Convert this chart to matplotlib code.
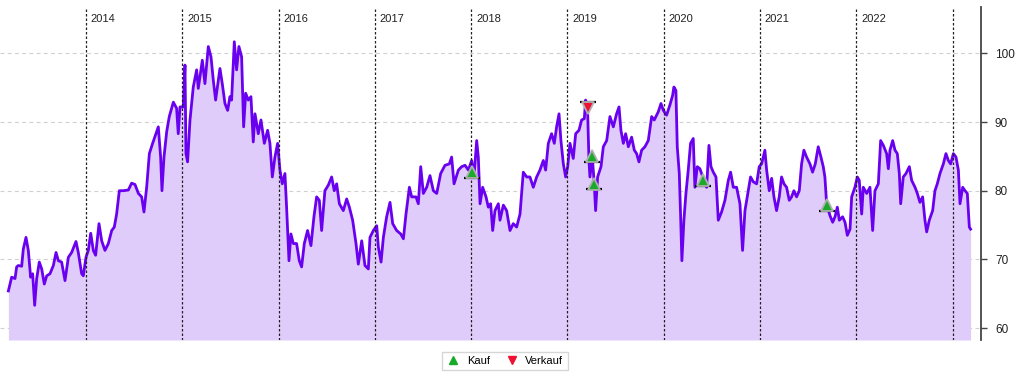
import numpy as np
import matplotlib
matplotlib.use("Agg")
import matplotlib.pyplot as plt
import matplotlib.transforms as mtransforms

plt.rcParams['font.family'] = ['Liberation Sans', 'DejaVu Sans']

# Kursverlauf (Zeit als Dezimaljahr)
jahr = [2013.194, 2013.211, 2013.228, 2013.263, 2013.280, 2013.297, 2013.332, 2013.349, 2013.377, 2013.401,
        2013.425, 2013.446, 2013.467, 2013.488, 2013.515, 2013.540, 2013.567, 2013.592, 2013.626, 2013.661,
        2013.689, 2013.713, 2013.747, 2013.782, 2013.817, 2013.851, 2013.896, 2013.920, 2013.955, 2013.972,
        2014.000, 2014.024, 2014.049, 2014.076, 2014.100, 2014.135, 2014.163, 2014.197, 2014.232, 2014.267,
        2014.294, 2014.318, 2014.346, 2014.388, 2014.440, 2014.474, 2014.509, 2014.544, 2014.578, 2014.602,
        2014.630, 2014.658, 2014.692, 2014.727, 2014.751, 2014.775, 2014.789, 2014.810, 2014.838, 2014.865,
        2014.907, 2014.941, 2014.958, 2014.976, 2015.010, 2015.028, 2015.038, 2015.055, 2015.080, 2015.114,
        2015.149, 2015.166, 2015.208, 2015.235, 2015.270, 2015.298, 2015.322, 2015.346, 2015.374, 2015.391,
        2015.415, 2015.443, 2015.471, 2015.495, 2015.512, 2015.540, 2015.564, 2015.588, 2015.616, 2015.637,
        2015.658, 2015.685, 2015.713, 2015.737, 2015.755, 2015.789, 2015.817, 2015.852, 2015.886, 2015.910,
        2015.935, 2015.962, 2015.990, 2016.014, 2016.038, 2016.066, 2016.083, 2016.108, 2016.128, 2016.153,
        2016.187, 2016.215, 2016.239, 2016.267, 2016.301, 2016.336, 2016.367, 2016.395, 2016.423, 2016.447,
        2016.481, 2016.516, 2016.551, 2016.578, 2016.603, 2016.631, 2016.672, 2016.707, 2016.735, 2016.769,
        2016.804, 2016.828, 2016.863, 2016.897, 2016.932, 2016.949, 2016.984, 2017.019, 2017.036, 2017.064,
        2017.088, 2017.122, 2017.157, 2017.185, 2017.226, 2017.268, 2017.296, 2017.323, 2017.358, 2017.382,
        2017.427, 2017.451, 2017.476, 2017.503, 2017.538, 2017.572, 2017.607, 2017.642, 2017.683, 2017.728,
        2017.773, 2017.797, 2017.822, 2017.867, 2017.901, 2017.936, 2017.971, 2018.005, 2018.029, 2018.057,
        2018.074, 2018.092, 2018.119, 2018.154, 2018.178, 2018.202, 2018.223, 2018.247, 2018.282, 2018.299,
        2018.334, 2018.368, 2018.403, 2018.437, 2018.472, 2018.507, 2018.541, 2018.576, 2018.610, 2018.645,
        2018.680, 2018.714, 2018.749, 2018.773, 2018.801, 2018.835, 2018.863, 2018.887, 2018.912, 2018.932,
        2018.957, 2018.981, 2019.002, 2019.026, 2019.060, 2019.085, 2019.119, 2019.147, 2019.175, 2019.188,
        2019.209, 2019.223, 2019.233, 2019.258, 2019.278, 2019.292, 2019.313, 2019.348, 2019.372, 2019.407,
        2019.441, 2019.476, 2019.510, 2019.535, 2019.555, 2019.580, 2019.604, 2019.632, 2019.666, 2019.694,
        2019.718, 2019.742, 2019.770, 2019.804, 2019.839, 2019.874, 2019.901, 2019.943, 2019.971, 2019.995,
        2020.029, 2020.064, 2020.092, 2020.105, 2020.126, 2020.140, 2020.161, 2020.175, 2020.188, 2020.209,
        2020.230, 2020.254, 2020.278, 2020.306, 2020.323, 2020.348, 2020.375, 2020.410, 2020.445, 2020.469,
        2020.490, 2020.514, 2020.542, 2020.566, 2020.600, 2020.635, 2020.670, 2020.694, 2020.722, 2020.756,
        2020.791, 2020.818, 2020.843, 2020.867, 2020.901, 2020.929, 2020.964, 2020.991, 2021.016, 2021.050,
        2021.068, 2021.095, 2021.120, 2021.144, 2021.171, 2021.199, 2021.223, 2021.248, 2021.275, 2021.303,
        2021.327, 2021.351, 2021.379, 2021.407, 2021.431, 2021.455, 2021.483, 2021.518, 2021.545, 2021.573,
        2021.604, 2021.632, 2021.656, 2021.673, 2021.691, 2021.725, 2021.754, 2021.778, 2021.802, 2021.823,
        2021.857, 2021.882, 2021.906, 2021.934, 2021.951, 2021.985, 2022.010, 2022.030, 2022.055, 2022.072,
        2022.107, 2022.141, 2022.169, 2022.193, 2022.228, 2022.252, 2022.280, 2022.314, 2022.332, 2022.349,
        2022.377, 2022.401, 2022.425, 2022.446, 2022.460, 2022.487, 2022.515, 2022.550, 2022.574, 2022.609,
        2022.633, 2022.660, 2022.688, 2022.712, 2022.730, 2022.757, 2022.792, 2022.816, 2022.840, 2022.868,
        2022.903, 2022.930, 2022.955, 2022.979, 2023.007, 2023.034, 2023.059, 2023.076, 2023.104, 2023.128,
        2023.152, 2023.173, 2023.186]

kurs = [65.4, 66.4, 67.4, 67.2, 68.9, 69.1, 69.0, 71.5, 73.2, 71.3,
        67.4, 67.9, 63.3, 67.2, 69.6, 68.6, 66.4, 67.6, 67.9, 69.1,
        71.0, 69.8, 69.6, 66.9, 70.3, 71.0, 72.6, 71.0, 67.9, 67.6,
        70.3, 71.3, 73.8, 71.3, 70.6, 75.2, 72.7, 71.3, 72.3, 74.2,
        74.7, 76.6, 80.0, 80.0, 80.1, 81.1, 80.9, 79.6, 79.1, 76.9,
        80.5, 85.4, 86.9, 88.3, 89.3, 84.9, 80.0, 84.9, 88.6, 90.8,
        92.9, 92.0, 88.3, 92.2, 92.2, 98.3, 85.4, 84.2, 90.3, 95.1,
        97.6, 94.9, 99.0, 95.6, 101.0, 99.5, 96.1, 93.2, 96.1, 97.8,
        95.6, 92.7, 91.7, 93.7, 93.2, 101.7, 97.6, 101.0, 99.5, 89.3,
        94.2, 93.2, 93.7, 87.1, 91.2, 88.3, 90.3, 86.9, 88.8, 86.9,
        82.0, 84.9, 86.9, 83.0, 81.0, 82.5, 77.6, 69.8, 73.7, 72.3,
        72.3, 69.8, 68.9, 72.3, 74.2, 72.0, 76.2, 79.1, 78.6, 74.2,
        80.0, 80.8, 82.0, 80.0, 81.0, 78.1, 77.1, 78.8, 77.6, 75.7,
        72.3, 69.3, 72.7, 69.1, 68.6, 73.2, 74.2, 74.9, 71.8, 69.6,
        73.2, 76.2, 78.3, 75.2, 74.2, 73.7, 73.0, 76.6, 80.5, 79.1,
        79.1, 78.1, 83.5, 79.6, 80.5, 82.2, 80.0, 79.6, 82.5, 83.7,
        83.9, 84.9, 81.0, 83.0, 83.5, 83.7, 83.0, 84.4, 82.0, 87.3,
        84.9, 78.1, 80.5, 79.1, 77.6, 78.1, 74.2, 77.1, 78.1, 75.7,
        77.9, 77.1, 74.2, 75.2, 74.7, 76.6, 82.7, 82.0, 82.0, 80.5,
        82.0, 83.0, 84.4, 83.0, 86.9, 88.3, 86.9, 89.3, 91.2, 87.3,
        83.9, 82.0, 83.5, 86.9, 84.7, 88.3, 88.8, 90.3, 90.5, 93.2,
        91.7, 84.4, 82.0, 84.9, 81.0, 77.1, 82.0, 83.5, 86.4, 87.3,
        90.8, 89.3, 91.2, 92.2, 88.8, 86.9, 88.3, 86.4, 87.8, 85.9,
        85.4, 84.2, 85.9, 86.4, 87.3, 90.8, 90.3, 91.5, 92.7, 91.7,
        91.0, 92.5, 93.9, 95.1, 94.6, 86.4, 82.5, 76.2, 69.8, 75.7,
        79.6, 83.0, 86.9, 87.6, 80.5, 83.5, 83.2, 81.8, 80.5, 86.6,
        83.5, 82.7, 82.0, 75.7, 76.9, 78.6, 81.5, 82.7, 80.5, 80.5,
        78.1, 71.3, 77.1, 79.1, 82.0, 81.3, 81.0, 83.5, 83.9, 85.9,
        83.0, 80.0, 81.8, 79.1, 77.1, 79.1, 82.0, 81.0, 80.5, 78.6,
        79.1, 80.0, 79.1, 80.0, 83.9, 85.9, 84.9, 83.9, 82.7, 83.9,
        86.4, 84.9, 83.5, 82.0, 78.1, 76.4, 75.4, 76.2, 77.6, 75.7,
        76.2, 75.4, 73.5, 74.4, 79.1, 80.5, 82.0, 81.5, 76.6, 80.5,
        79.6, 80.5, 74.2, 80.0, 81.0, 87.3, 86.6, 85.4, 83.2, 85.9,
        87.3, 85.9, 85.4, 82.5, 78.1, 82.0, 82.5, 83.5, 81.5, 80.5,
        79.6, 78.3, 79.1, 75.7, 74.0, 75.7, 77.1, 80.0, 81.0, 82.5,
        83.9, 85.4, 84.4, 83.9, 85.4, 84.9, 83.0, 78.1, 80.5, 80.0,
        79.6, 74.7, 74.4]

# Signale
kauf_t = [2018.005, 2019.251, 2019.275, 2020.410, 2021.691]
kauf_kurs = [82.7, 85.0, 81.0, 81.5, 77.9]
verkauf_t = [2019.216]
verkauf_kurs = [92.1]

jahre = [2014, 2015, 2016, 2017, 2018, 2019, 2020, 2021, 2022, 2023]
yticks = [60, 70, 80, 90, 100]

linie = "#6a00f0"
flaeche = "#dfccfa"
gruen = "#1aaa2a"
rot = "#ee1133"

fig = plt.figure(figsize=(10.24, 3.77), dpi=100)
ax = fig.add_axes([0.0, 0.0981, 0.958, 0.883])

ymin, ymax = 58.25, 106.74
ax.set_xlim(2013.107, 2023.294)
ax.set_ylim(ymin, ymax)

# Gitter
for y in yticks:
    ax.axhline(y, color="#d0d0d0", lw=0.8, ls=(0, (3.5, 3)), zorder=0)

ax.fill_between(jahr, kurs, ymin, color=flaeche, lw=0, zorder=1)
ax.plot(jahr, kurs, color=linie, lw=2.0, zorder=2)

for j in jahre:
    ax.axvline(j, color="#222222", lw=0.9, ls=(0, (2, 1.6)), zorder=3)
    if j < 2023:
        ax.text(j + 0.05, 0.964, str(j), transform=ax.get_xaxis_transform(),
                fontsize=8, va="center", ha="left", color="#222222")

# Markierungen
unten = mtransforms.offset_copy(ax.transData, fig=fig, x=0, y=-4, units="points")
oben = mtransforms.offset_copy(ax.transData, fig=fig, x=0, y=4, units="points")
ax.plot(kauf_t, kauf_kurs, ls="none", marker="_", ms=12, mew=1.6, color="black", transform=unten, zorder=4)
ax.plot(verkauf_t, verkauf_kurs, ls="none", marker="_", ms=12, mew=1.6, color="black", transform=oben, zorder=4)
ax.plot(kauf_t, kauf_kurs, ls="none", marker="^", ms=9, color=gruen, mec="#b0b0b0", mew=1.3, zorder=5)
ax.plot(verkauf_t, verkauf_kurs, ls="none", marker="v", ms=9, color=rot, mec="#b0b0b0", mew=1.3, zorder=5)

# Achsen
for s in ["top", "left", "bottom"]:
    ax.spines[s].set_visible(False)
ax.spines["right"].set_color("#444444")
ax.spines["right"].set_linewidth(1.3)
ax.yaxis.tick_right()
ax.set_yticks(yticks)
ax.tick_params(axis="y", direction="out", length=4, width=1, color="#444444", pad=6, labelsize=8.5, labelcolor="#222222")
ax.set_xticks([])

h1, = ax.plot([], [], ls="none", marker="^", ms=6, color=gruen, label="Kauf")
h2, = ax.plot([], [], ls="none", marker="v", ms=6, color=rot, label="Verkauf")
fig.legend(handles=[h1, h2], loc="center", bbox_to_anchor=(505 / 1024, 1 - 361 / 377), ncol=2,
           fontsize=8, frameon=True, fancybox=False, edgecolor="#cccccc", handletextpad=0.6,
           columnspacing=1.4, borderpad=0.4, handlelength=1.2)

fig.savefig("out.png", dpi=100)
